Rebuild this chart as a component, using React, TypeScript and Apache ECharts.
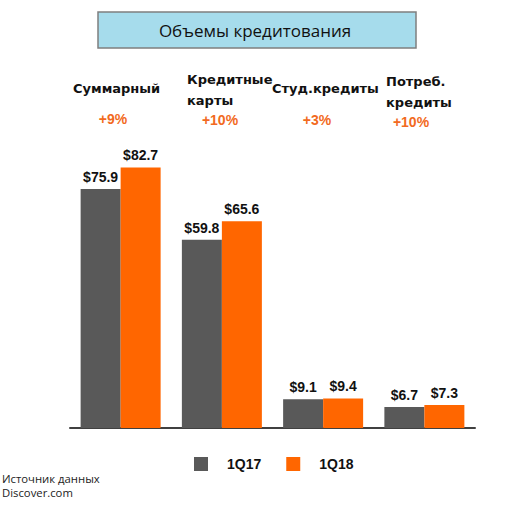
import React, { useEffect, useRef } from "react";
import * as echarts from "echarts";

const categories = ["Суммарный", "Кредитные карты", "Студ.кредиты", "Потреб. кредиты"];
const headerLabels = ["Суммарный", "Кредитные\nкарты", "Студ.кредиты", "Потреб.\nкредиты"];
const growthLabels = ["+9%", "+10%", "+3%", "+10%"];
const seriesNames = ["1Q17", "1Q18"];
const values1Q17 = [75.9, 59.8, 9.1, 6.7];
const values1Q18 = [82.7, 65.6, 9.4, 7.3];
const titleText = "Объемы кредитования";
const sourceText = "Источник данных\nDiscover.com";

// layout (not data)
const headerPos = [
  { x: 73, y: 88 },
  { x: 187, y: 90 },
  { x: 272, y: 88 },
  { x: 386, y: 92 },
];
const growthPos = [
  { x: 113, y: 119 },
  { x: 220, y: 120 },
  { x: 317, y: 120 },
  { x: 411, y: 122 },
];

const GRAY = "#595959";
const ORANGE = "#ff6600";

export default function App() {
  const ref = useRef<HTMLDivElement>(null);
  useEffect(() => {
    if (!ref.current) return;
    const chart = echarts.init(ref.current, null, { renderer: "svg" });
    const labelStyle = {
      show: true,
      position: "top",
      distance: 5,
      formatter: (p: any) => "$" + p.value.toFixed(1),
      fontFamily: "Liberation Sans, Arial, sans-serif",
      fontWeight: "bold",
      fontSize: 14,
      color: "#111",
    };
    const graphics: any[] = [
      {
        type: "rect",
        shape: { x: 98, y: 12, width: 318, height: 36 },
        style: { fill: "#a6dcec", stroke: "#7f7f7f", lineWidth: 1.5 },
      },
      {
        type: "text",
        x: 255,
        y: 30,
        style: {
          text: titleText,
          fontFamily: "Open Sans, sans-serif",
          fontSize: 17,
          fill: "#111",
          align: "center",
          verticalAlign: "middle",
        },
      },
      {
        type: "text",
        x: 2,
        y: 485,
        style: {
          text: sourceText,
          fontFamily: "Open Sans, sans-serif",
          fontSize: 11.3,
          lineHeight: 14,
          fill: "#222",
          align: "left",
          verticalAlign: "middle",
        },
      },
    ];
    headerLabels.forEach((t, i) => {
      graphics.push({
        type: "text",
        x: headerPos[i].x,
        y: headerPos[i].y,
        style: {
          text: t,
          fontFamily: "DejaVu Sans, sans-serif",
          fontWeight: "bold",
          fontSize: 13,
          lineHeight: 21,
          fill: "#111",
          align: "left",
          verticalAlign: "middle",
        },
      });
    });
    growthLabels.forEach((t, i) => {
      graphics.push({
        type: "text",
        x: growthPos[i].x,
        y: growthPos[i].y,
        style: {
          text: t,
          fontFamily: "Liberation Sans, Arial, sans-serif",
          fontWeight: "bold",
          fontSize: 14,
          fill: "#f26a21",
          align: "center",
          verticalAlign: "middle",
        },
      });
    });
    chart.setOption({
      animation: false,
      grid: { left: 70, right: 38, top: 113, bottom: 79, containLabel: false },
      legend: {
        data: seriesNames,
        left: 189,
        top: 452,
        icon: "rect",
        itemWidth: 14,
        itemHeight: 14,
        itemGap: 25,
        textStyle: {
          fontFamily: "Liberation Sans, Arial, sans-serif",
          fontWeight: "bold",
          fontSize: 14,
          color: "#111",
          padding: [0, 0, 0, 14],
        },
      },
      xAxis: {
        type: "category",
        data: categories,
        axisLine: { show: true, lineStyle: { color: "#404040", width: 2 } },
        axisTick: { show: false },
        axisLabel: { show: false },
      },
      yAxis: {
        type: "value",
        min: 0,
        max: 100,
        show: false,
        splitLine: { show: false },
      },
      series: [
        {
          name: seriesNames[0],
          type: "bar",
          data: values1Q17,
          barWidth: 40,
          barGap: "0%",
          itemStyle: { color: GRAY },
          label: labelStyle,
        },
        {
          name: seriesNames[1],
          type: "bar",
          data: values1Q18,
          barWidth: 40,
          barGap: "0%",
          itemStyle: { color: ORANGE },
          label: labelStyle,
        },
      ],
      graphic: graphics,
    });
    return () => chart.dispose();
  }, []);
  return (
    <div
      ref={ref}
      style={{ position: "fixed", left: 0, top: 0, width: 513, height: 507, background: "#fff" }}
    />
  );
}
